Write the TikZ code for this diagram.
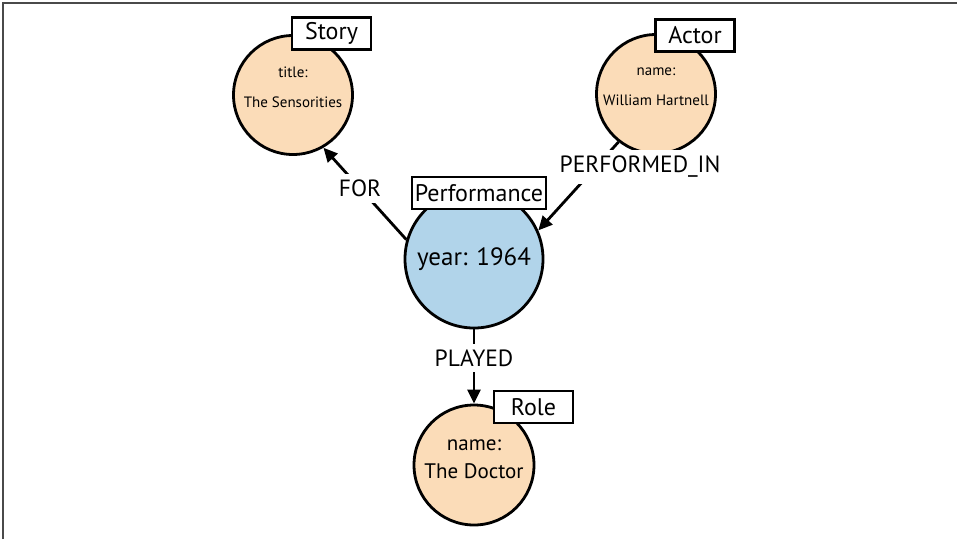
\documentclass[tikz,border=0pt]{standalone}
\usepackage{fontspec}
\setmainfont{PT Sans}
\usetikzlibrary{arrows.meta}
\definecolor{peach}{HTML}{FBDCB8}
\definecolor{skyblue}{HTML}{B1D4EA}
\definecolor{framegray}{HTML}{4A4A4A}
\tikzset{
  x=1pt, y=-1pt,
  entity/.style={circle, draw=black, line width=2.8pt, inner sep=0pt},
  tagbox/.style={draw=black, fill=white, line width=2.4pt, minimum height=32pt, minimum width=79pt, inner xsep=3pt, inner ysep=0pt, font=\fontsize{24}{26}\selectfont},
  proptext/.style={align=center, inner sep=0pt},
  rel/.style={line width=2.8pt, -{Triangle[length=14pt,width=13pt]}},
  rellabel/.style={fill=white, inner xsep=2pt, inner ysep=6pt, font=\fontsize{23.5}{25}\selectfont},
}
\begin{document}
\begin{tikzpicture}
\useasboundingbox (0,0) rectangle (957,539);
\draw[framegray, line width=1.6pt] (3,539) -- (3,3) -- (957,3);

% entities
\node[entity, fill=peach, minimum size=119pt] (story) at (293,95) {};
\node[entity, fill=peach, minimum size=119pt] (actor) at (656,94) {};
\node[entity, fill=skyblue, minimum size=138pt] (perf) at (474,259) {};
\node[entity, fill=peach, minimum size=120pt] (role) at (474,465) {};

% relationships
\draw[rel] (perf.164) -- (story.-60);
\draw[rel] (actor.-128) -- (perf.24);
\draw[rel] (perf.south) -- (role.north);

\node[rellabel] (lfor) at (360,188) {FOR};
\node[rellabel] (lperf) at (640,167) {PERFORMED\_IN};
\node[rellabel] (lplay) at (474,358) {PLAYED};

% properties
\node[proptext, font=\fontsize{15}{30}\selectfont] (storyp) at (293,87) {title:\\The Sensorities};
\node[proptext, font=\fontsize{15}{30}\selectfont] (actorp) at (656,87) {name:\\William Hartnell};
\node[proptext, font=\fontsize{25}{28}\selectfont] (perfp) at (474,259) {year: 1964};
\node[proptext, font=\fontsize{21}{28}\selectfont] (rolep) at (474,459) {name:\\The Doctor};

% label tags
\node[tagbox] (storytag) at (331.5,33.5) {Story};
\node[tagbox] (actortag) at (695,35.5) {Actor};
\node[tagbox] (perftag) at (479,193) {Performance};
\node[tagbox] (roletag) at (533.5,407) {Role};
\end{tikzpicture}
\end{document}
